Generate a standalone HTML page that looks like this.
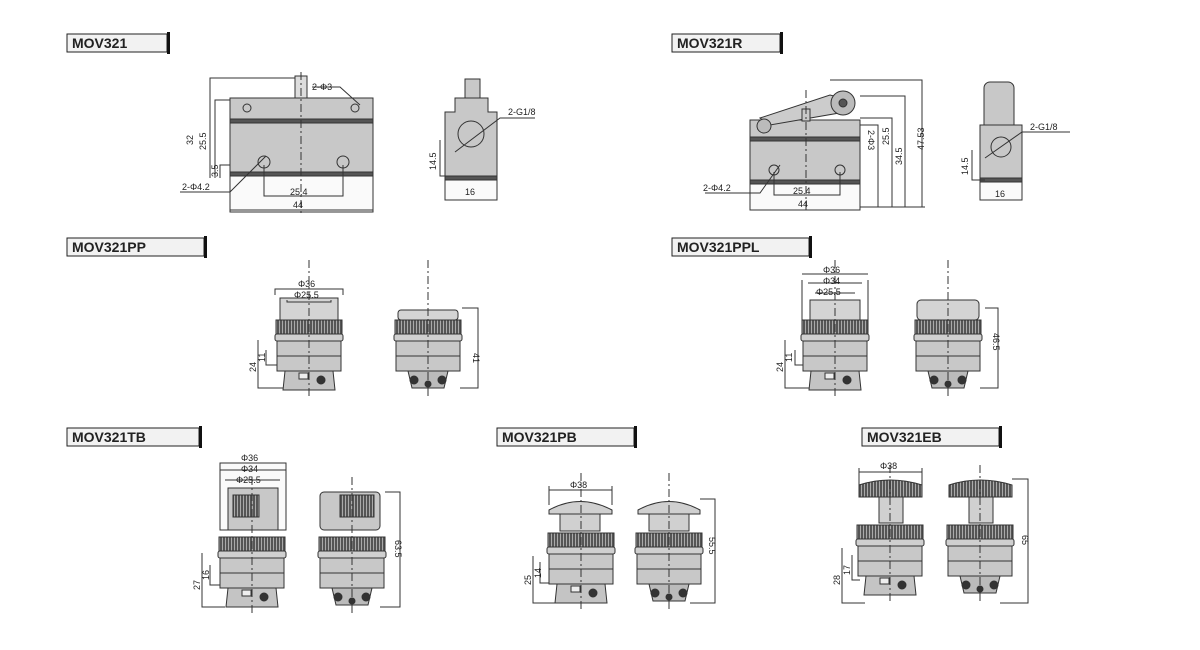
<!DOCTYPE html>
<html><head><meta charset="utf-8"><style>
body{margin:0;background:#fff}
svg{display:block}
text{font-family:"Liberation Sans",sans-serif;fill:#222}
.lab{font-size:14px;font-weight:bold}
.d{font-size:9px}
</style></head><body>
<svg width="1200" height="650" viewBox="0 0 1200 650" xmlns="http://www.w3.org/2000/svg">
<defs>
<pattern id="st" width="3" height="10" patternUnits="userSpaceOnUse"><rect width="3" height="10" fill="#555"/><rect width="1" height="10" fill="#aaa"/></pattern>
<g id="low" stroke="#333" stroke-width="1">
<rect x="-33" y="0" width="66" height="14" fill="url(#st)"/>
<rect x="-34" y="14" width="68" height="7" rx="2" fill="#d0d0d0"/>
<rect x="-32" y="21" width="64" height="30" fill="#c8c8c8"/>
<line x1="-32" y1="36" x2="32" y2="36"/>
<path d="M-24 51 L24 51 L26 70 L-26 70 Z" fill="#c4c4c4"/>
<rect x="-10" y="53" width="9" height="6" fill="#eee"/>
<circle cx="12" cy="60" r="4" fill="#333"/>
<line x1="0" y1="-60" x2="0" y2="78" stroke-dasharray="8 3 2 3"/>
</g>
<g id="lowr" stroke="#333" stroke-width="1">
<rect x="-33" y="0" width="66" height="14" fill="url(#st)"/>
<rect x="-34" y="14" width="68" height="7" rx="2" fill="#d0d0d0"/>
<rect x="-32" y="21" width="64" height="30" fill="#c8c8c8"/>
<line x1="-32" y1="36" x2="32" y2="36"/>
<path d="M-20 51 L20 51 L16 68 L-16 68 Z" fill="#bbb"/>
<circle cx="-14" cy="60" r="4" fill="#333"/><circle cx="14" cy="60" r="4" fill="#333"/><circle cx="0" cy="64" r="3" fill="#333"/>
<line x1="0" y1="-60" x2="0" y2="78" stroke-dasharray="8 3 2 3"/>
</g>
</defs>

<g stroke="#222" fill="#f2f2f2">
<rect x="67" y="34" width="100" height="18"/><rect x="672" y="34" width="108" height="18"/>
<rect x="67" y="238" width="137" height="18"/><rect x="672" y="238" width="137" height="18"/>
<rect x="67" y="428" width="132" height="18"/><rect x="497" y="428" width="137" height="18"/>
<rect x="862" y="428" width="137" height="18"/>
</g>
<g fill="#111">
<rect x="167" y="32" width="3" height="22"/><rect x="780" y="32" width="3" height="22"/>
<rect x="204" y="236" width="3" height="22"/><rect x="809" y="236" width="3" height="22"/>
<rect x="199" y="426" width="3" height="22"/><rect x="634" y="426" width="3" height="22"/>
<rect x="999" y="426" width="3" height="22"/>
</g>
<text class="lab" x="72" y="48">MOV321</text><text class="lab" x="677" y="48">MOV321R</text>
<text class="lab" x="72" y="252">MOV321PP</text><text class="lab" x="677" y="252">MOV321PPL</text>
<text class="lab" x="72" y="442">MOV321TB</text><text class="lab" x="502" y="442">MOV321PB</text>
<text class="lab" x="867" y="442">MOV321EB</text>

<!-- MOV321 -->
<g stroke="#333" stroke-width="1" fill="none">
<rect x="230" y="98" width="143" height="114" fill="#fafafa"/>
<rect x="230" y="98" width="143" height="76" fill="#c8c8c8"/>
<rect x="230" y="119" width="143" height="4" fill="#555"/>
<rect x="230" y="172" width="143" height="4" fill="#555"/>
<rect x="295" y="76" width="12" height="22" fill="#ddd"/>
<circle cx="247" cy="108" r="4"/><circle cx="355" cy="108" r="4"/>
<circle cx="264" cy="162" r="6"/><circle cx="343" cy="162" r="6"/>
<line x1="301" y1="72" x2="301" y2="215" stroke-dasharray="8 3 2 3"/>
<path d="M210 178 V78 H295 M215 178 V100 H230 M220 178 V165 H230"/>
<path d="M264 165 V196 H343 V165 M230 210 H373"/>
<path d="M180 192 H230 L266 156"/><path d="M312 87 H340 L360 105"/>
</g>
<text class="d" x="312" y="90">2-Φ3</text>
<text class="d" x="182" y="190">2-Φ4.2</text>
<text class="d" x="290" y="195">25.4</text><text class="d" x="293" y="208">44</text>
<text class="d" transform="translate(193,145) rotate(-90)">32</text>
<text class="d" transform="translate(206,150) rotate(-90)">25.5</text>
<text class="d" transform="translate(218,177) rotate(-90)">3.5</text>
<g stroke="#333" fill="#c8c8c8">
<rect x="465" y="79" width="15" height="19"/>
<path d="M455 98 H488 V112 H497 V178 H445 V112 H455 Z"/>
<rect x="445" y="176" width="52" height="4" fill="#555"/>
<rect x="445" y="180" width="52" height="20" fill="#fafafa"/>
<circle cx="471" cy="134" r="13" fill="none"/>
<path d="M440 140 V176 H460" fill="none"/>
<path d="M455 152 L500 118 H535" fill="none"/>
</g>
<text class="d" x="508" y="115">2-G1/8</text><text class="d" x="465" y="195">16</text>
<text class="d" transform="translate(436,170) rotate(-90)">14.5</text>

<!-- MOV321R -->
<g stroke="#333" fill="#c8c8c8">
<path d="M830 80 H922 V207 M860 96 H905 V207 M860 118 H892 V207 M860 125 H878 V207 M860 207 H925" fill="none"/>
<rect x="750" y="120" width="110" height="90" fill="#fafafa"/>
<rect x="750" y="120" width="110" height="62"/>
<rect x="750" y="137" width="110" height="4" fill="#555"/>
<rect x="750" y="180" width="110" height="4" fill="#555"/>
<path d="M760 118 L830 95 L850 100 L845 112 L770 125 Z" fill="#ccc"/>
<circle cx="843" cy="103" r="12" fill="#bbb"/><circle cx="843" cy="103" r="4" fill="#555"/>
<circle cx="764" cy="126" r="7" fill="#bbb"/>
<rect x="802" y="109" width="8" height="12"/>
<circle cx="774" cy="170" r="5" fill="none"/><circle cx="840" cy="170" r="5" fill="none"/>
<path d="M774 172 V195 H840 V172 M705 193 H760 L780 165" fill="none"/>
<line x1="806" y1="90" x2="806" y2="212" stroke-dasharray="8 3 2 3"/>
</g>
<text class="d" x="703" y="191">2-Φ4.2</text><text class="d" x="793" y="194">25.4</text><text class="d" x="798" y="207">44</text>
<text class="d" transform="translate(868,130) rotate(90)">2-Φ3</text>
<text class="d" transform="translate(889,145) rotate(-90)">25.5</text>
<text class="d" transform="translate(902,165) rotate(-90)">34.5</text>
<text class="d" transform="translate(924,150) rotate(-90)">47.53</text>
<g stroke="#333" fill="#c8c8c8">
<rect x="984" y="82" width="30" height="60" rx="6"/>
<rect x="980" y="125" width="42" height="55"/>
<rect x="980" y="178" width="42" height="4" fill="#555"/>
<rect x="980" y="182" width="42" height="18" fill="#fafafa"/>
<circle cx="1001" cy="147" r="10" fill="none"/>
<path d="M985 158 L1022 132 H1070 M972 150 V180 H985" fill="none"/>
</g>
<text class="d" x="1030" y="130">2-G1/8</text><text class="d" x="995" y="197">16</text>
<text class="d" transform="translate(968,175) rotate(-90)">14.5</text>

<!-- PP -->
<g stroke="#333" fill="#c8c8c8">
<rect x="280" y="298" width="58" height="22" fill="#d4d4d4"/>
<rect x="398" y="310" width="60" height="10" rx="3" fill="#d4d4d4"/>
<path d="M275 295 V289 H343 V295 M287 300 V302 H331 V300 M258 340 V388 H285 M266 350 V365 H277 M462 308 H478 V388 H460" fill="none"/>
</g>
<use href="#low" x="309" y="320"/><use href="#lowr" x="428" y="320"/>
<text class="d" x="298" y="287">Φ36</text><text class="d" x="294" y="298">Φ25.5</text>
<text class="d" transform="translate(256,372) rotate(-90)">24</text>
<text class="d" transform="translate(265,362) rotate(-90)">11</text>
<text class="d" transform="translate(473,353) rotate(90)">41</text>

<!-- PPL -->
<g stroke="#333" fill="#c8c8c8">
<rect x="810" y="300" width="50" height="20" fill="#d4d4d4"/>
<rect x="917" y="300" width="62" height="20" rx="4" fill="#d4d4d4"/>
<path d="M802 280 V320 M868 280 V320 M802 274 H868 M808 283 H862 M815 293 H855 M785 340 V388 H810 M795 350 V365 H805 M985 308 H998 V388 H980" fill="none"/>
</g>
<use href="#low" x="835" y="320"/><use href="#lowr" x="948" y="320"/>
<text class="d" x="823" y="273">Φ36</text><text class="d" x="823" y="284">Φ34</text><text class="d" x="816" y="295">Φ25.5</text>
<text class="d" transform="translate(783,372) rotate(-90)">24</text>
<text class="d" transform="translate(792,362) rotate(-90)">11</text>
<text class="d" transform="translate(993,333) rotate(90)">46.5</text>

<!-- TB -->
<g stroke="#333" fill="#c8c8c8">
<rect x="220" y="463" width="66" height="67" fill="#fafafa"/>
<rect x="228" y="488" width="50" height="42"/>
<rect x="233" y="495" width="26" height="22" fill="url(#st)"/>
<rect x="320" y="492" width="60" height="38" rx="4"/>
<rect x="340" y="495" width="34" height="22" fill="url(#st)"/>
<path d="M220 470 H286 M225 480 H280 M202 553 V607 H225 M210 565 V585 H220 M385 492 H400 V607 H380" fill="none"/>
</g>
<use href="#low" x="252" y="537"/><use href="#lowr" x="352" y="537"/>
<text class="d" x="241" y="461">Φ36</text><text class="d" x="241" y="472">Φ34</text><text class="d" x="236" y="483">Φ25.5</text>
<text class="d" transform="translate(200,590) rotate(-90)">27</text>
<text class="d" transform="translate(209,580) rotate(-90)">16</text>
<text class="d" transform="translate(395,540) rotate(90)">63.5</text>

<!-- PB -->
<g stroke="#333" fill="#d0d0d0">
<path d="M549 510 Q580 493 612 510 V514 H549 Z"/><rect x="560" y="514" width="40" height="17"/>
<path d="M638 510 Q669 493 700 510 V514 H638 Z"/><rect x="649" y="514" width="40" height="17"/>
<path d="M549 490 H612 M549 486 V505 M612 486 V505 M533 556 V603 H555 M540 562 V583 H550 M700 499 H715 V603 H690" fill="none"/>
</g>
<use href="#low" x="581" y="533"/><use href="#lowr" x="669" y="533"/>
<text class="d" x="570" y="488">Φ38</text>
<text class="d" transform="translate(531,585) rotate(-90)">25</text>
<text class="d" transform="translate(541,578) rotate(-90)">14</text>
<text class="d" transform="translate(709,537) rotate(90)">55.5</text>

<!-- EB -->
<g stroke="#333" fill="#d0d0d0">
<path d="M859 485 Q890 475 922 485 V497 H859 Z" fill="url(#st)"/><rect x="879" y="497" width="24" height="26"/>
<path d="M949 485 Q980 475 1012 485 V497 H949 Z" fill="url(#st)"/><rect x="969" y="497" width="24" height="26"/>
<path d="M859 472 H922 M859 468 V485 M922 468 V485 M842 548 V603 H865 M852 555 V580 H860 M1012 479 H1028 V603 H1000" fill="none"/>
</g>
<use href="#low" x="890" y="525"/><use href="#lowr" x="980" y="525"/>
<text class="d" x="880" y="469">Φ38</text>
<text class="d" transform="translate(840,585) rotate(-90)">28</text>
<text class="d" transform="translate(850,575) rotate(-90)">17</text>
<text class="d" transform="translate(1022,535) rotate(90)">65</text>
</svg>
</body></html>
